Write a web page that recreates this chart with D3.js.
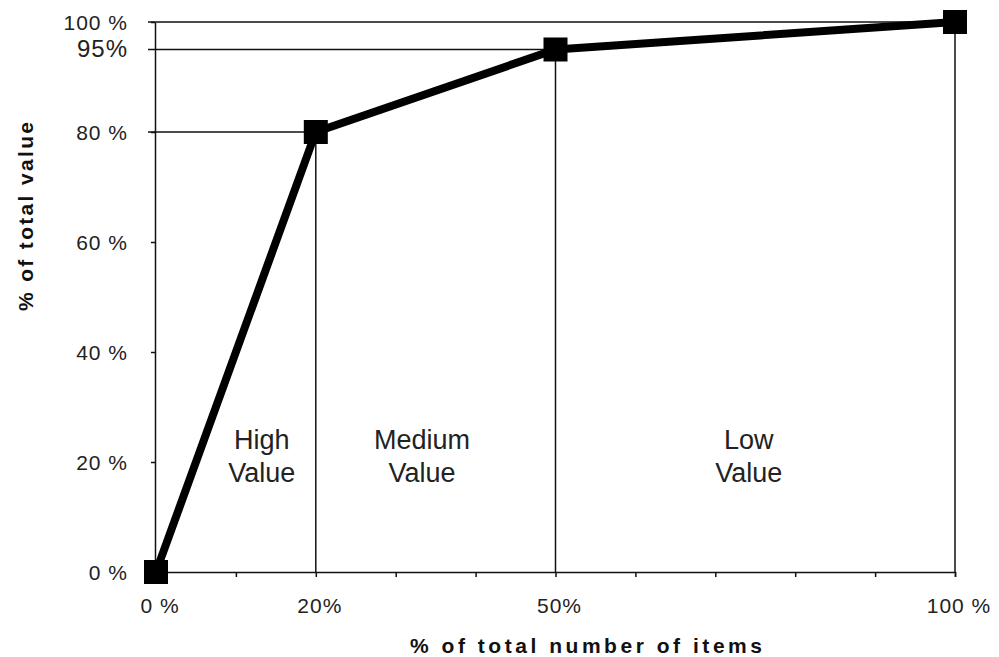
<!DOCTYPE html>
<html>
<head>
<meta charset="utf-8">
<script src="https://cdn.jsdelivr.net/npm/d3@7"></script>
<style>
  html, body { margin: 0; padding: 0; background: #fff; }
  svg { display: block; font-family: "Liberation Sans", Arial, sans-serif; }
</style>
</head>
<body>
<svg id="chart" width="999" height="657"></svg>
<script>
// ---- data ----
const itemsPct = [0, 20, 50, 100];          // % of total number of items
const valuePct = [0, 80, 95, 100];          // % of total value (cumulative)
const xTickValues = [0, 20, 50, 100];
const xTickLabels = ["0 %", "20%", "50%", "100 %"];
const xMinorTicks = [0, 10, 20, 30, 40, 50, 60, 70, 80, 90, 100];
const yTickValues = [0, 20, 40, 60, 80, 95, 100];
const yTickLabels = ["0 %", "20 %", "40 %", "60 %", "80 %", "95%", "100 %"];
const regionNames = [["High", "Value"], ["Medium", "Value"], ["Low", "Value"]];
const regionCenters = [13.25, 33.3, 74.2];   // x position of region labels (% of items)
const xTitle = "% of total number of items";
const yTitle = "% of total value";

// ---- layout ----
const svg = d3.select("#chart");
const x = d3.scaleLinear().domain([0, 100]).range([156, 955]);
const y = d3.scaleLinear().domain([0, 100]).range([572, 22]);

// drop / grid lines from each point to axes
const g = svg.append("g");
itemsPct.forEach((v, i) => {
  if (i === 0) return;
  g.append("line")
    .attr("x1", x(0) - 8).attr("x2", x(v))
    .attr("y1", y(valuePct[i])).attr("y2", y(valuePct[i]))
    .attr("stroke", "#111").attr("stroke-width", 1.5);
  g.append("line")
    .attr("x1", x(v)).attr("x2", x(v))
    .attr("y1", y(0)).attr("y2", y(valuePct[i]))
    .attr("stroke", "#111").attr("stroke-width", 1.5);
});

// x axis
const xAxis = d3.axisBottom(x).tickValues(xMinorTicks).tickSize(5).tickFormat("");
const xg = svg.append("g").attr("transform", `translate(0,${y(0)})`).call(xAxis);
xg.select(".domain").attr("stroke", "#111").attr("stroke-width", 1.5);
xg.selectAll(".tick line").attr("stroke", "#111").attr("stroke-width", 1.5);

// y axis
const yAxis = d3.axisLeft(y).tickValues([0, 20, 40, 60, 80, 100]).tickSize(4).tickFormat("").tickSizeOuter(0);
const yg = svg.append("g").attr("transform", `translate(${x(0) - 1},0)`).call(yAxis);
yg.select(".domain").attr("stroke", "#111").attr("stroke-width", 1.5);
yg.selectAll(".tick line").attr("stroke", "#111").attr("stroke-width", 1.5);

// tick labels
svg.append("g").selectAll("text").data(xTickValues).join("text")
  .attr("x", d => x(d) + 4)
  .attr("y", 613)
  .attr("text-anchor", "middle")
  .attr("font-size", 21)
  .attr("letter-spacing", 1)
  .attr("fill", "#222")
  .text((d, i) => xTickLabels[i]);

svg.append("g").selectAll("text").data(yTickValues).join("text")
  .attr("x", 128)
  .attr("y", d => y(d))
  .attr("dy", d => d === 95 ? "0.33em" : "0.36em")
  .attr("text-anchor", "end")
  .attr("font-size", d => d === 95 ? 24 : 21)
  .attr("letter-spacing", 1)
  .attr("fill", "#222")
  .text((d, i) => yTickLabels[i]);

// the curve
const line = d3.line().x(d => x(d[0])).y(d => y(d[1]));
const pts = itemsPct.map((v, i) => [v, valuePct[i]]);
svg.append("path").datum(pts)
  .attr("d", line)
  .attr("fill", "none")
  .attr("stroke", "#000")
  .attr("stroke-width", 8)
  .attr("stroke-linejoin", "round");

const ms = 24;
svg.append("g").selectAll("rect").data(pts).join("rect")
  .attr("x", d => x(d[0]) - ms / 2)
  .attr("y", d => y(d[1]) - ms / 2)
  .attr("width", ms).attr("height", ms)
  .attr("fill", "#000");

// region labels
const rg = svg.append("g");
regionNames.forEach((lines, i) => {
  const t = rg.append("text")
    .attr("text-anchor", "middle")
    .attr("font-size", 27)
    .attr("fill", "#222");
  lines.forEach((s, j) => {
    t.append("tspan")
      .attr("x", x(regionCenters[i]))
      .attr("y", 449 + j * 33)
      .text(s);
  });
});

// axis titles
svg.append("text")
  .attr("x", 410).attr("y", 653)
  .attr("font-size", 21)
  .attr("font-weight", "bold")
  .attr("fill", "#111")
  .attr("textLength", 352)
  .attr("lengthAdjust", "spacing")
  .text(xTitle);

svg.append("text")
  .attr("transform", "translate(33,311) rotate(-90)")
  .attr("x", 0).attr("y", 0)
  .attr("font-size", 21)
  .attr("font-weight", "bold")
  .attr("fill", "#111")
  .attr("textLength", 189)
  .attr("lengthAdjust", "spacing")
  .text(yTitle);
</script>
</body>
</html>
